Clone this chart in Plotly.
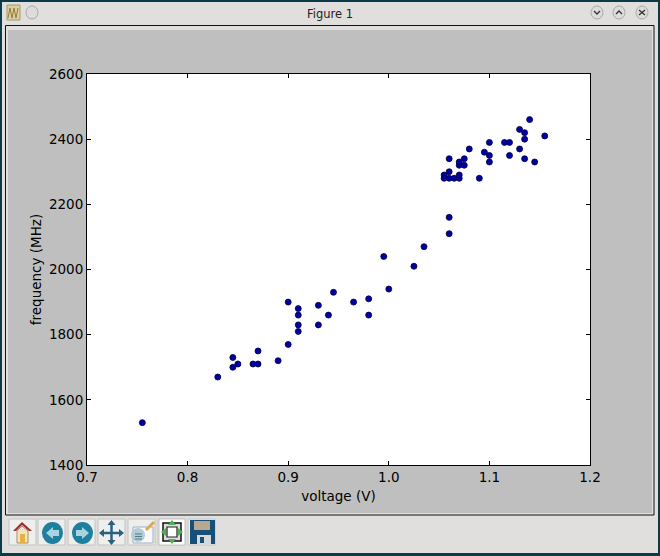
import plotly.graph_objects as go

voltage = [0.755, 0.83, 0.845, 0.845, 0.85, 0.865, 0.87, 0.87, 0.89, 0.9, 0.9, 0.91, 0.91, 0.91, 0.91,
           0.93, 0.93, 0.94, 0.945, 0.965, 0.98, 0.98, 0.995, 1.0, 1.025, 1.035, 1.06, 1.06,
           1.055, 1.055, 1.06, 1.06, 1.06, 1.065, 1.07, 1.07, 1.07, 1.07, 1.075, 1.075, 1.08, 1.09,
           1.095, 1.1, 1.1, 1.1, 1.115, 1.12, 1.12, 1.13, 1.13, 1.135, 1.135, 1.135, 1.14, 1.145, 1.155]
frequency = [1530, 1670, 1730, 1700, 1710, 1710, 1710, 1750, 1720, 1770, 1900, 1880, 1860, 1830, 1810,
             1890, 1830, 1860, 1930, 1900, 1910, 1860, 2040, 1940, 2010, 2070, 2160, 2110,
             2290, 2280, 2340, 2300, 2280, 2280, 2280, 2290, 2320, 2330, 2320, 2340, 2370, 2280,
             2360, 2390, 2350, 2330, 2390, 2390, 2350, 2430, 2370, 2420, 2400, 2340, 2460, 2330, 2410]
x_ticks = [0.7, 0.8, 0.9, 1.0, 1.1, 1.2]
x_tick_labels = ["0.7", "0.8", "0.9", "1.0", "1.1", "1.2"]
y_ticks = [1400, 1600, 1800, 2000, 2200, 2400, 2600]

L, R, T, B = 87, 590, 74, 465
def px(x): return (x - L) / (R - L)
def py(y): return (B - y) / (B - T)

shapes = []
def rect(x0, y0, x1, y1, fill, line=None, w=1):
    shapes.append(dict(type="rect", xref="paper", yref="paper", x0=px(x0), x1=px(x1), y0=py(y0), y1=py(y1),
                       fillcolor=fill, line=dict(color=line or fill, width=w if line else 0), layer="above"))
def circle(x0, y0, x1, y1, fill, line=None, w=1):
    shapes.append(dict(type="circle", xref="paper", yref="paper", x0=px(x0), x1=px(x1), y0=py(y0), y1=py(y1),
                       fillcolor=fill, line=dict(color=line or fill, width=w if line else 0), layer="above"))
def poly(pts, fill=None, line=None, w=1, close=True):
    d = "M " + " L ".join(f"{px(a):.5f},{py(b):.5f}" for a, b in pts) + (" Z" if close else "")
    shapes.append(dict(type="path", xref="paper", yref="paper", path=d, fillcolor=fill or "rgba(0,0,0,0)",
                       line=dict(color=line or fill, width=w if line else 0), layer="above"))

CH = "#e0dfde"
DK = "#0b3a48"
# dark desktop edge
rect(0, 0, 660, 2, DK); rect(0, 553, 660, 556, DK); rect(0, 0, 2, 556, DK); rect(658, 0, 660, 556, DK)
# window chrome
rect(2, 2, 658, 25, CH); rect(2, 516, 658, 553, CH); rect(2, 25, 6, 516, CH); rect(654, 25, 658, 516, CH)
# frame round the canvas
rect(6, 25, 654, 30, CH); rect(6, 513, 654, 516, CH); rect(6, 30, 8, 513, CH); rect(652, 30, 654, 513, CH)
poly([(5.5, 25.5), (654, 25.5), (654, 515), (5.5, 515)], line="#111111", w=1)

# title bar buttons
rect(7, 5, 20, 20, "#d8cfa8", "#a89a60")
poly([(8, 18), (10, 8), (12, 18), (14, 8), (16, 18), (18, 8)], line="#9a7d30", w=1, close=False)
circle(26, 6, 38, 19, "#dcdcdc", "#aaaaaa")
for cx in (591, 613, 636):
    circle(cx, 6, cx + 12, 19, "#dcdcdc", "#aaaaaa")
poly([(594, 11), (597, 14), (600, 11)], line="#333333", w=1.3, close=False)
poly([(616, 14), (619, 11), (622, 14)], line="#333333", w=1.3, close=False)
poly([(639, 10), (645, 15)], line="#333333", w=1.3, close=False)
poly([(645, 10), (639, 15)], line="#333333", w=1.3, close=False)

# toolbar buttons
for bx in (9, 38, 68, 98, 128, 158, 188):
    rect(bx, 519, bx + 27, 545, "#eeeeec", "#c4c4c4")
# home
poly([(13, 531), (22, 522), (32, 531), (29, 531), (22, 525), (16, 531)], fill="#a02c2c")
poly([(17, 531), (22, 526), (28, 531), (28, 543), (17, 543)], fill="#f0e4c0", line="#a09070")
rect(20, 534, 25, 543, "#e8b040")
# back / forward
circle(42, 522, 63, 544, "#1f7f9f")
poly([(46, 533), (53, 527), (53, 530), (59, 530), (59, 536), (53, 536), (53, 539)], fill="#a8d4e0")
circle(72, 522, 93, 544, "#1f7f9f")
poly([(89, 533), (82, 527), (82, 530), (76, 530), (76, 536), (82, 536), (82, 539)], fill="#a8d4e0")
# pan
poly([(101, 533), (122, 533)], line="#2a6080", w=2.5, close=False)
poly([(111.5, 522), (111.5, 543)], line="#2a6080", w=2.5, close=False)
poly([(111.5, 520), (107.5, 525), (115.5, 525)], fill="#2a6080")
poly([(111.5, 545), (107.5, 540), (115.5, 540)], fill="#2a6080")
poly([(99, 533), (104, 529), (104, 537)], fill="#2a6080")
poly([(124, 533), (119, 529), (119, 537)], fill="#2a6080")
# zoom / configure
rect(133, 527, 153, 543, "#f8f8f8", "#9ab0c0")
circle(131, 528, 145, 542, "#b4ccd8")
poly([(146, 530), (154, 522)], line="#e0a850", w=3, close=False)
for yy in (534, 536.5, 539):
    poly([(135, yy), (142, yy)], line="#557788", w=1, close=False)
# subplots
rect(159, 519, 185, 545, "#ffffff", "#c4c4c4")
rect(163, 523, 181, 541, "#dddddd", "#111111", 1.5)
rect(167, 527, 177, 537, "#ffffff", "#222222", 1.2)
for tri in ([(172, 520), (168, 525), (176, 525)], [(172, 544), (168, 539), (176, 539)],
            [(161, 532), (166, 528), (166, 536)], [(183, 532), (178, 528), (178, 536)]):
    poly(tri, fill="#50b050")
# save
rect(190, 520, 215, 544, "#164f78")
rect(194, 521, 210, 530, "#b8a890")
rect(197, 535, 211, 544, "#d8d8d8")
rect(200, 537, 204, 543, "#164f78")

fig = go.Figure(go.Scatter(
    x=voltage, y=frequency, mode="markers",
    marker=dict(size=6, color="#0000a8", line=dict(color="#000033", width=0.8)),
    hoverinfo="skip", cliponaxis=False))

axis = dict(showline=True, linecolor="black", linewidth=1, mirror="allticks", ticks="inside",
            ticklen=4, tickwidth=1, tickcolor="black", showgrid=False, zeroline=False,
            tickfont=dict(size=13.5, color="black"), title_font=dict(size=13.5, color="black"))
fig.update_xaxes(axis, range=[0.7, 1.2], tickmode="array", tickvals=x_ticks, ticktext=x_tick_labels,
                 title_text="voltage (V)", title_standoff=7)
fig.update_yaxes(axis, range=[1400, 2600], tickmode="array", tickvals=y_ticks,
                 title_text="frequency (MHz)", title_standoff=4)
fig.update_layout(
    width=660, height=556, autosize=False,
    margin=dict(l=L, r=660 - R, t=T, b=556 - B),
    paper_bgcolor="#bfbfbf", plot_bgcolor="white",
    font=dict(family="DejaVu Sans", color="black"),
    showlegend=False, shapes=shapes,
    annotations=[dict(text="Figure 1", xref="paper", yref="paper", x=px(330), y=py(13.5), showarrow=False,
                      xanchor="center", yanchor="middle",
                      font=dict(size=11.5, color="#222222", family="DejaVu Sans"))],
)
fig.write_html("out.html", config=dict(displayModeBar=False),
               post_script="document.body.style.margin='0';document.body.style.overflow='hidden';")
